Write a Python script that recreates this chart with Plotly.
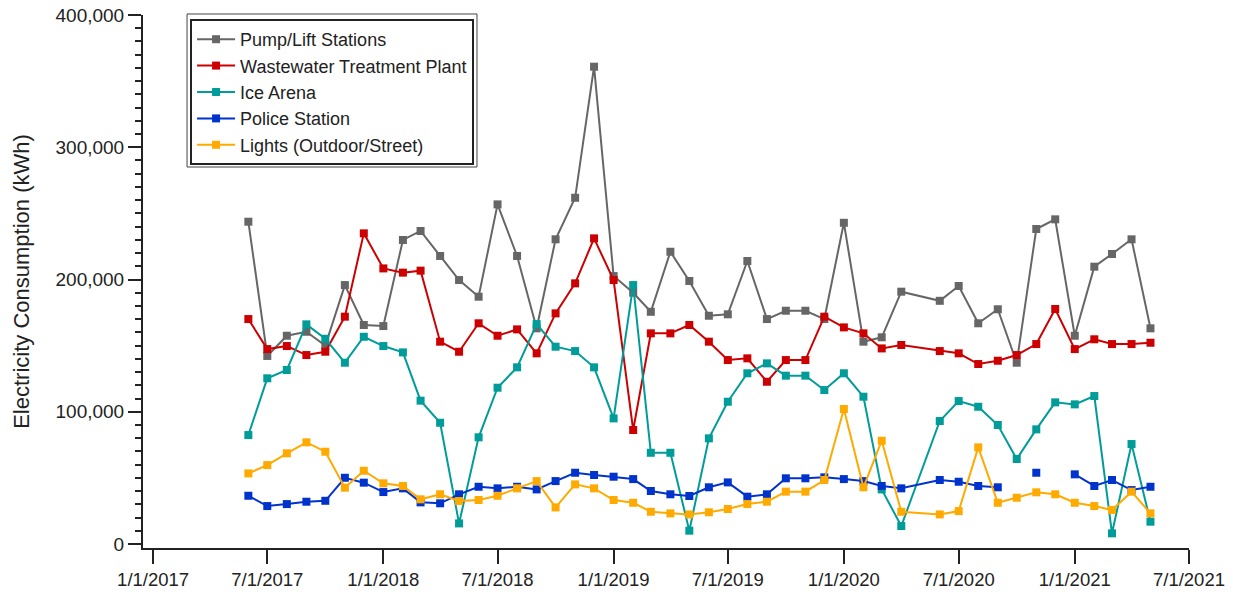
import plotly.graph_objects as go

months = [
    "2017-06-01", "2017-07-01", "2017-08-01", "2017-09-01", "2017-10-01", "2017-11-01", "2017-12-01",
    "2018-01-01", "2018-02-01", "2018-03-01", "2018-04-01", "2018-05-01", "2018-06-01",
    "2018-07-01", "2018-08-01", "2018-09-01", "2018-10-01", "2018-11-01", "2018-12-01",
    "2019-01-01", "2019-02-01", "2019-03-01", "2019-04-01", "2019-05-01", "2019-06-01",
    "2019-07-01", "2019-08-01", "2019-09-01", "2019-10-01", "2019-11-01", "2019-12-01",
    "2020-01-01", "2020-02-01", "2020-03-01", "2020-04-01", "2020-06-01",
    "2020-07-01", "2020-08-01", "2020-09-01", "2020-10-01", "2020-11-01", "2020-12-01",
    "2021-01-01", "2021-02-01", "2021-03-01", "2021-04-01", "2021-05-01",
]

pump_lift = [
    243700, 142200, 157500, 160500, 150000, 195800, 165600,
    164800, 229900, 236700, 217800, 199600, 187000,
    256800, 217800, 163100, 230400, 261800, 360900,
    202600, 190000, 175600, 221000, 198900, 172600,
    173700, 214000, 170100, 176400, 176400, 170100,
    242900, 153000, 156300, 190800, 183900,
    195100, 166900, 177500, 137100, 238200, 245500,
    157500, 209700, 219300, 230400, 163100,
]

wastewater = [
    170100, 147400, 149700, 142900, 145400, 171900, 234900,
    208400, 205200, 206700, 153000, 145400, 166900,
    157500, 162300, 144200, 174400, 197100, 231100,
    199600, 86200, 159300, 159300, 165600, 153000,
    139100, 140400, 122700, 139100, 139100, 171900,
    163800, 159300, 147900, 150500, 145900,
    144200, 136100, 138600, 142900, 151200, 177700,
    147400, 154800, 151200, 151200, 152200,
]

ice_arena = [
    82400, 125300, 131600, 166100, 155200, 137100, 156700,
    149700, 144900, 108400, 91700, 15600, 80700,
    118200, 133600, 166300, 149200, 145900, 133600,
    95000, 195800, 69000, 69000, 10100, 79900,
    107600, 129100, 136600, 127300, 127300, 116400,
    129100, 111400, 41300, 13600, 93000,
    108100, 103800, 90000, 64300, 86700, 107100,
    105600, 111900, 8100, 75600, 16900,
]

police = [
    36500, 28700, 30200, 32000, 32700, 50100, 46400,
    39300, 42100, 31500, 30800, 37600, 43300,
    42100, 43300, 41300, 47600, 53900, 52200,
    50900, 49100, 40100, 37600, 36300, 42900,
    46600, 35800, 37600, 49700, 49700, 50400,
    49100, 47600, 43900, 42100, 48400,
    47100, 43900, 42900, None, 53900, None,
    52700, 43900, 48400, 40800, 43300,
]

lights = [
    53400, 59700, 68600, 76900, 69800, 42600, 55400,
    45900, 43900, 33800, 37600, 32500, 33300,
    36500, 42100, 47600, 27700, 45100, 42100,
    33300, 31200, 24400, 23200, 22400, 24000,
    26500, 30200, 32000, 39600, 39600, 48400,
    102100, 42900, 78100, 24400, 22400,
    24900, 73100, 31200, 35000, 39100, 37600,
    31200, 28700, 25700, 39600, 23200,
]

series = [
    ("Pump/Lift Stations", pump_lift, "#666666"),
    ("Wastewater Treatment Plant", wastewater, "#CC0000"),
    ("Ice Arena", ice_arena, "#009C99"),
    ("Police Station", police, "#0033CC"),
    ("Lights (Outdoor/Street)", lights, "#FFAA00"),
]

y_ticks = [0, 100000, 200000, 300000, 400000]

fig = go.Figure()
for name, vals, color in series:
    fig.add_trace(go.Scatter(
        x=months, y=vals, name=name, mode="lines+markers",
        line=dict(color=color, width=2),
        marker=dict(symbol="square", size=8, color=color),
        connectgaps=False,
    ))

fig.update_layout(
    width=1234, height=594,
    margin=dict(l=143, r=45, t=15, b=46, autoexpand=False),
    plot_bgcolor="white", paper_bgcolor="white",
    font=dict(family="Liberation Sans, Arial, sans-serif", color="#222222", size=18),
    showlegend=True,
    legend=dict(
        x=0.045, y=0.9925, xanchor="left", yanchor="top",
        bordercolor="#222222", borderwidth=2, bgcolor="white",
        font=dict(size=18, color="#222222"),
        itemwidth=38, tracegroupgap=0,
    ),
    shapes=[dict(
        type="rect", xref="paper", yref="paper",
        x0=0.0421, x1=0.3193, y0=0.7148, y1=1.0019,
        line=dict(color="#444444", width=1), fillcolor="rgba(0,0,0,0)",
        layer="above",
    )],
)

fig.update_xaxes(
    type="date", automargin=False,
    range=["2016-12-16", "2021-07-01 02:00"],
    tick0="2017-01-01", dtick="M6", tickformat="%-m/%-d/%Y",
    ticks="outside", ticklen=14, tickwidth=2, tickcolor="#222222",
    showline=True, linewidth=2, linecolor="#222222",
    showgrid=False, zeroline=False,
    tickfont=dict(size=18.5, color="#222222"),
)

fig.update_yaxes(
    automargin=False,
    range=[-3000, 400000],
    tickmode="array", tickvals=y_ticks, tickformat=",d",
    ticks="outside", ticklen=13, tickwidth=2, tickcolor="#222222",
    minor=dict(ticks="outside", ticklen=6, tickwidth=1.5, tickcolor="#222222",
               dtick=10000, tick0=0, showgrid=False),
    showline=True, linewidth=2, linecolor="#222222",
    showgrid=False, zeroline=False,
    tickfont=dict(size=19, color="#222222"),
    title=dict(text="Electricity Consumption (kWh)", font=dict(size=22, color="#222222"), standoff=20),
)

fig.write_html(
    "out.html",
    config={"displayModeBar": False},
    post_script="document.body.style.margin='0';document.body.style.overflow='hidden';",
)
